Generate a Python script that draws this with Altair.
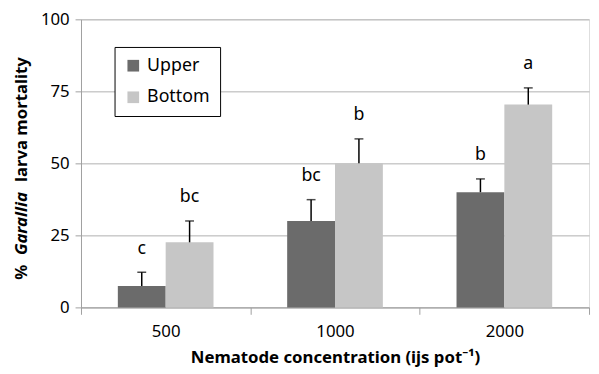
import altair as alt
import pandas as pd

concentrations = ["500", "1000", "2000"]
series = ["Upper", "Bottom"]
upper_mean = [7.4, 30.0, 40.0]
upper_err = [4.8, 7.4, 4.6]
upper_letters = ["c", "bc", "b"]
bottom_mean = [22.6, 50.0, 70.4]
bottom_err = [7.4, 8.5, 5.8]
bottom_letters = ["bc", "b", "a"]
colors = ["#6b6b6b", "#c6c6c6"]

rows = []
for i, c in enumerate(concentrations):
    rows.append({"conc": c, "pos": "Upper", "mean": upper_mean[i],
                 "top": upper_mean[i] + upper_err[i], "letter": upper_letters[i]})
    rows.append({"conc": c, "pos": "Bottom", "mean": bottom_mean[i],
                 "top": bottom_mean[i] + bottom_err[i], "letter": bottom_letters[i]})
df = pd.DataFrame(rows)

FONT = "Noto Sans"

x = alt.X("conc:N", sort=concentrations,
          scale=alt.Scale(paddingInner=0, paddingOuter=0),
          axis=alt.Axis(title="Nematode concentration (ijs pot\u207b\u00b9)",
                        titleFont=FONT, titleFontSize=17, titleFontWeight="bold",
                        titleColor="black", titleY=56, titleBaseline="alphabetic",
                        labelFont=FONT, labelFontSize=17, labelColor="black",
                        labelAngle=0, labelPadding=10,
                        tickBand="extent", tickSize=7, tickColor="#a0a0a0",
                        domainColor="#a0a0a0", grid=False))
xo = alt.XOffset("pos:N", sort=series,
                 scale=alt.Scale(domain=series, paddingInner=0, paddingOuter=0.77))
y_axis = alt.Axis(title=None, values=[0, 25, 50, 75, 100],
                  labelFont=FONT, labelFontSize=17, labelColor="black",
                  labelPadding=6, tickSize=6, tickColor="#a0a0a0",
                  domainColor="#a0a0a0", gridColor="#b0b0b0")
yscale = alt.Scale(domain=[0, 100], nice=False)

base = alt.Chart(df)

bars = base.mark_bar().encode(
    x=x, xOffset=xo,
    y=alt.Y("mean:Q", scale=yscale, axis=y_axis),
    color=alt.Color("pos:N", sort=series,
                    scale=alt.Scale(domain=series, range=colors),
                    legend=alt.Legend(title=None, orient="none", legendX=34, legendY=28,
                                      strokeColor="black", fillColor="white",
                                      padding=10, symbolType="square", symbolSize=140,
                                      symbolStrokeWidth=0, rowPadding=14,
                                      labelFont=FONT, labelFontSize=18,
                                      labelColor="black", labelOffset=5)),
)

err = base.mark_rule(color="black", strokeWidth=1.5).encode(
    x=x, xOffset=xo, y=alt.Y("mean:Q", scale=yscale), y2="top:Q")

caps = base.mark_tick(color="black", thickness=1.5, size=9, orient="horizontal").encode(
    x=x, xOffset=xo, y=alt.Y("top:Q", scale=yscale))

letters = base.mark_text(font=FONT, fontSize=18, color="black", dy=-24,
                         baseline="middle").encode(
    x=x, xOffset=xo, y=alt.Y("top:Q", scale=yscale), text="letter:N")

title_df = pd.DataFrame({"t": [0]})
tbase = alt.Chart(title_df)
t1 = tbase.mark_text(text="%", angle=270, align="left", baseline="middle",
                     font=FONT, fontSize=17, fontWeight="bold", color="black").encode(
    x=alt.value(-60), y=alt.value(264))
t2 = tbase.mark_text(text="Garallia", angle=270, align="left", baseline="middle",
                     font=FONT, fontSize=17, fontWeight="bold", fontStyle="italic",
                     color="black").encode(x=alt.value(-60), y=alt.value(239))
t3 = tbase.mark_text(text="larva mortality", angle=270, align="left", baseline="middle",
                     font=FONT, fontSize=17, fontWeight="bold", color="black").encode(
    x=alt.value(-60), y=alt.value(165))

chart = alt.layer(bars, err, caps, letters, t1, t2, t3).properties(
    width=515, height=292, autosize="none",
    padding={"left": 74, "top": 9, "right": 2, "bottom": 63},
).configure_view(stroke=None).configure(background="white")

chart.save("out.html", embed_options={"renderer": "svg", "actions": False})
